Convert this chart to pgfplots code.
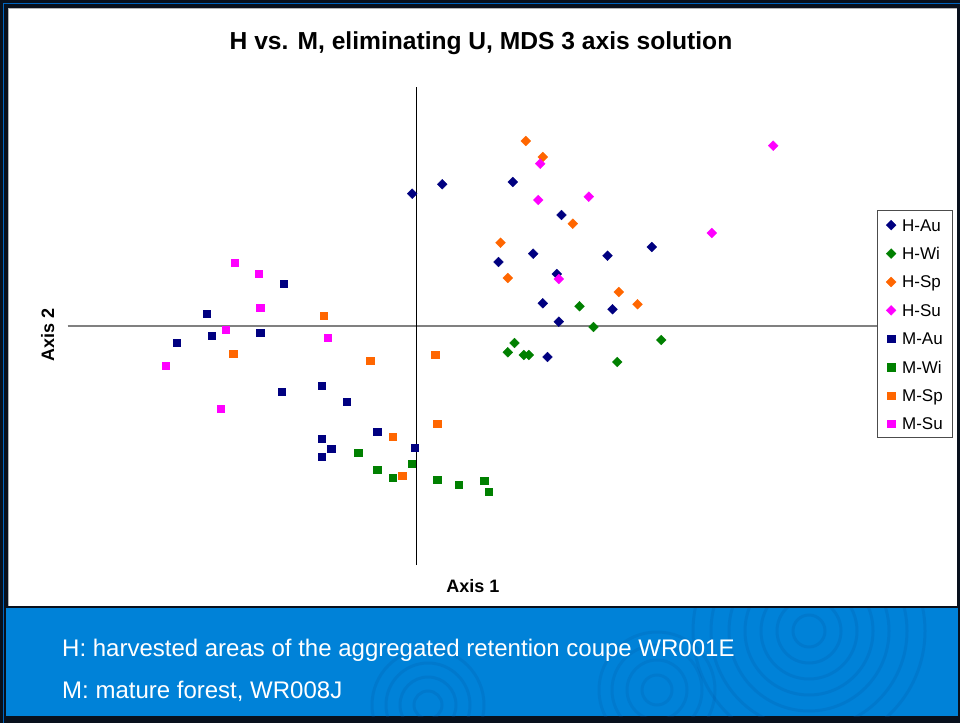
\documentclass[border=0pt]{standalone}
\usepackage{pgfplots}
\pgfplotsset{compat=1.18}
\usepackage{fontspec}
\setmainfont{Liberation Sans}
\definecolor{cAu}{RGB}{0,0,128}
\definecolor{cWi}{RGB}{0,128,0}
\definecolor{cSp}{RGB}{255,102,0}
\definecolor{cSu}{RGB}{255,0,255}
\definecolor{band}{RGB}{0,130,216}
\definecolor{ring}{RGB}{0,90,170}
\definecolor{frame}{RGB}{8,16,28}
\definecolor{frameblue}{RGB}{0,100,190}
\begin{document}
\begin{tikzpicture}[x=1pt,y=1pt]
\useasboundingbox (0,0) rectangle (960,723);
\fill[frame] (0,0) rectangle (960,723);
\draw[frameblue, line width=1.4pt] (3.3,0) -- (3.3,719.7) -- (960,719.7);
% blue band
\fill[band] (6,7) rectangle (958,115);
\begin{scope}
\clip (6,7) rectangle (958,115);
\foreach \r in {16,32,48,64,80,98,116}{\draw[ring, opacity=0.22, line width=3pt] (809,92) circle (\r);}
\foreach \r in {14,28,42,56}{\draw[ring, opacity=0.22, line width=3pt] (428,18) circle (\r);}
\foreach \r in {15,30,45,58}{\draw[ring, opacity=0.2, line width=3pt] (657,33) circle (\r);}
\end{scope}
% white panel
\fill[white] (8,117) rectangle (957,715);
\draw[gray!60, line width=0.8pt] (8.4,117) -- (8.4,714.6) -- (957,714.6);
\node[anchor=base west, inner sep=0pt, white, font=\fontsize{24}{27}\selectfont] at (62,67) {H: harvested areas of the aggregated retention coupe WR001E};
\node[anchor=base west, inner sep=0pt, white, font=\fontsize{24}{27}\selectfont] at (62,25) {M: mature forest, WR008J};
\node[anchor=base, font=\bfseries\fontsize{24.6}{28}\selectfont] at (481,673) {H vs. M, eliminating U, MDS 3 axis solution};
\node[anchor=base, font=\bfseries\fontsize{18}{21}\selectfont] at (473,131) {Axis 1};
\node[anchor=base, rotate=90, font=\bfseries\fontsize{18}{21}\selectfont] at (54,388) {Axis 2};
\begin{axis}[
  at={(67.5pt,158pt)}, anchor=south west,
  scale only axis, width=809pt, height=478pt,
  xmin=-349, xmax=460, ymin=-239, ymax=239,
  axis lines=middle, axis line style={-},
  x axis line style={gray, line width=1.2pt},
  y axis line style={black, line width=0.9pt},
  xtick=\empty, ytick=\empty, clip=false,
  legend cell align=left,
  legend image code/.code={\draw[#1, yshift=-1pt] plot coordinates {(0pt,0pt)};},
  legend style={at={(1.0006,0.7427)}, anchor=north west, draw=black!70, fill=white,
    font=\fontsize{17}{20}\selectfont, inner xsep=9pt, inner ysep=3pt,
    row sep=6.4pt, column sep=6pt,
    nodes={inner sep=0pt, text height=18pt, text depth=4pt}},
]
\addplot[only marks, color=cAu, mark=square*, mark size=3.5pt, mark options={rotate=45, line width=0.3pt}] coordinates {
(-4.3,132.3) (25.7,141.7) (96.3,144) (145,111) (116.7,72.3) (82,64) (140.3,52)
(191,70.3) (235.3,79) (126.3,22.7) (196,16.7) (142.3,4.3) (131,-31)};
\addlegendentry{H-Au}
\addplot[only marks, color=cWi, mark=square*, mark size=3.5pt, mark options={rotate=45, line width=0.3pt}] coordinates {
(163,19.7) (177,-1) (244.7,-14) (98,-17) (91.3,-26.3) (107.3,-29) (112.3,-29) (200.7,-36)};
\addlegendentry{H-Wi}
\addplot[only marks, color=cSp, mark=square*, mark size=3.5pt, mark options={rotate=45, line width=0.3pt}] coordinates {
(109.3,185) (126.3,169) (156.3,102.3) (84,83.3) (91.3,48) (202.3,34) (221,21.7)};
\addlegendentry{H-Sp}
\addplot[only marks, color=cSu, mark=square*, mark size=3.5pt, mark options={rotate=45, line width=0.3pt}] coordinates {
(356.7,180.3) (123.7,162.3) (121.7,126) (172.3,129.3) (295.3,93) (142.3,47)};
\addlegendentry{H-Su}
\addplot[only marks, color=cAu, mark=square*, mark size=3.6pt, mark options={line width=0.3pt}] coordinates {
(-132.7,42.7) (-210,12.7) (-205,-10) (-240,-16.7) (-156.3,-7) (-134.7,-65.3) (-95,-59.7)
(-69.7,-75.7) (-39.3,-105.7) (-95,-112.3) (-85.3,-122.7) (-95,-131) (-1.7,-121.7)};
\addlegendentry{M-Au}
\addplot[only marks, color=cWi, mark=square*, mark size=3.6pt, mark options={line width=0.3pt}] coordinates {
(-58.3,-127) (-39.3,-143.3) (-23.7,-151.7) (-5,-137.7) (20.7,-153.7) (42.3,-158.3) (67.7,-154.3) (72.3,-165.7)};
\addlegendentry{M-Wi}
\addplot[only marks, color=cSp, mark=square*, mark size=3.6pt, mark options={line width=0.3pt}] coordinates {
(-93,10.7) (-183.3,-27.7) (-46.3,-34.3) (18.7,-28.7) (20.7,-97.3) (-23.7,-110.3) (-14.3,-149.7)};
\addlegendentry{M-Sp}
\addplot[only marks, color=cSu, mark=square*, mark size=3.6pt, mark options={line width=0.3pt}] coordinates {
(-181.7,63.3) (-158,52) (-156.3,18.3) (-191,-3.3) (-251,-40) (-88.7,-11.7) (-195.7,-83)};
\addlegendentry{M-Su}
\end{axis}
\end{tikzpicture}
\end{document}
